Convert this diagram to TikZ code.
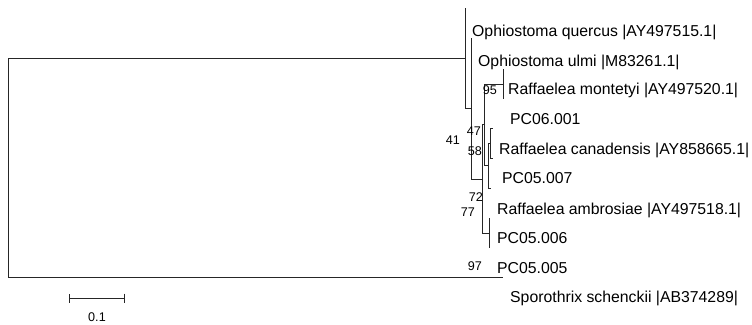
\documentclass[tikz,border=0pt]{standalone}
\usepackage{fontspec}
\setmainfont{Liberation Sans}
\usetikzlibrary{arrows.meta}
\begin{document}
\begin{tikzpicture}[
  x=1bp, y=-1bp,
  branch/.style={draw=black!85, line width=1bp},
  taxon/.style={anchor=base west, inner sep=0pt, font=\fontsize{15.8bp}{18bp}\selectfont},
  boot/.style={anchor=base east, inner sep=0pt, font=\fontsize{12.6bp}{14bp}\selectfont}
]
\useasboundingbox (0,0) rectangle (752,324);

% internal nodes
\coordinate (root) at (8,168);
\coordinate (nh) at (465,58.5);
\coordinate (ng) at (471,108.5);
\coordinate (ne) at (482,179);
\coordinate (nd) at (484.5,124.5);
\coordinate (na) at (503,84);
\coordinate (nc) at (488,165);
\coordinate (nb) at (490,143);
\coordinate (nf) at (489,233);

% tips
\coordinate (quercus) at (465,8);
\coordinate (ulmi) at (471,38);
\coordinate (montetyi) at (503,69);
\coordinate (pcsix) at (503,99);
\coordinate (canadensis) at (492.5,128);
\coordinate (pcseven) at (492.5,158);
\coordinate (ambrosiae) at (491,188);
\coordinate (pcfivesix) at (489,218);
\coordinate (pcfivefive) at (489,248);
\coordinate (sporothrix) at (503,277);

\draw[branch] (root) |- (nh);
\draw[branch] (root) |- (sporothrix);
\draw[branch] (nh) |- (quercus);
\draw[branch] (nh) |- (ng);
\draw[branch] (ng) |- (ulmi);
\draw[branch] (ng) |- (ne);
\draw[branch] (ne) |- (nd);
\draw[branch] (ne) |- (nf);
\draw[branch] (nd) |- (na);
\draw[branch] (nd) |- (nc);
\draw[branch] (na) |- (montetyi);
\draw[branch] (na) |- (pcsix);
\draw[branch] (nc) |- (nb);
\draw[branch] (nc) |- (ambrosiae);
\draw[branch] (nb) |- (canadensis);
\draw[branch] (nb) |- (pcseven);
\draw[branch] (nf) |- (pcfivesix);
\draw[branch] (nf) |- (pcfivefive);

% taxon labels
\node[taxon] (lquercus) at (472,36) {Ophiostoma quercus |AY497515.1|};
\node[taxon] (lulmi) at (478,66) {Ophiostoma ulmi |M83261.1|};
\node[taxon] (lmontetyi) at (508,94) {Raffaelea montetyi |AY497520.1|};
\node[taxon] (lpcsix) at (510,124) {PC06.001};
\node[taxon] (lcanadensis) at (499,154) {Raffaelea canadensis |AY858665.1|};
\node[taxon] (lpcseven) at (502,183) {PC05.007};
\node[taxon] (lambrosiae) at (497,214) {Raffaelea ambrosiae |AY497518.1|};
\node[taxon] (lpcfivesix) at (497,243) {PC05.006};
\node[taxon] (lpcfivefive) at (497,273) {PC05.005};
\node[taxon] (lsporothrix) at (510,302) {Sporothrix schenckii |AB374289|};

% bootstrap values
\node[boot] (ba) at (497,94) {95};
\node[boot] (bd) at (481,135) {47};
\node[boot] (bg) at (460,144) {41};
\node[boot] (bb) at (482,155) {58};
\node[boot] (bc) at (483,201) {72};
\node[boot] (be) at (475,216) {77};
\node[boot] (bf) at (482,270) {97};

% scale bar
\coordinate (sbleft) at (69,298);
\coordinate (sbright) at (125,298);
\draw[branch, {Bar[width=9bp]}-{Bar[width=9bp]}] (sbleft) -- (sbright);
\node[boot, anchor=base] (scale) at (97,321) {0.1};
\end{tikzpicture}
\end{document}
